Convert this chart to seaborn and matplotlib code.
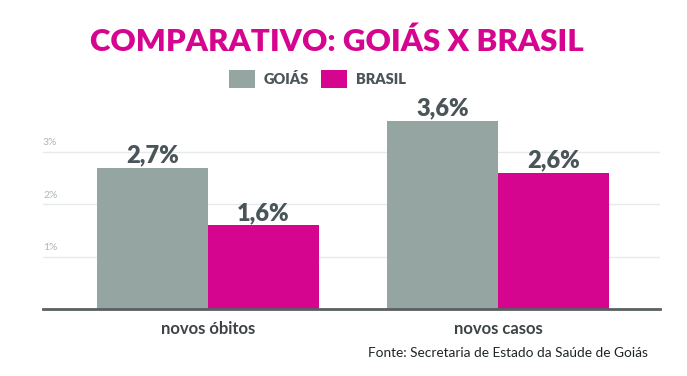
import matplotlib
matplotlib.use("Agg")
import matplotlib.pyplot as plt
import seaborn as sns
import pandas as pd
from matplotlib.patches import Patch

categories = ["novos óbitos", "novos casos"]
series = ["GOIÁS", "BRASIL"]
goias = [2.7, 3.6]
brasil = [1.6, 2.6]
yticks = [1, 2, 3]
ytick_labels = ["1%", "2%", "3%"]

GREY = "#95a5a2"
MAGENTA = "#d6058f"
DARK = "#4a5559"

sns.set_theme(style="white")
plt.rcParams["font.family"] = ["Lato", "DejaVu Sans"]

df = pd.DataFrame({
    "cat": categories * 2,
    "serie": [series[0]] * 2 + [series[1]] * 2,
    "val": goias + brasil,
})

fig = plt.figure(figsize=(6.87, 3.76), dpi=100)
ax = fig.add_axes([43 / 687, 1 - 309 / 376, (660 - 43) / 687, (309 - 99.8) / 376])

sns.barplot(data=df, x="cat", y="val", hue="serie", order=categories,
            hue_order=series, palette=[GREY, MAGENTA], width=0.766,
            saturation=1, ax=ax, legend=False, errorbar=None, linewidth=0)

ax.set_xlim(-0.569, 1.559)
ax.set_ylim(0, 4.0)
ax.set_yticks(yticks)
ax.set_yticklabels([])
ax.tick_params(axis="y", length=0)
ax.yaxis.grid(True, color="#e6eaea", linewidth=1)
ax.set_axisbelow(True)
for t, lab in zip(yticks, ytick_labels):
    ax.annotate(lab, xy=(0, t), xycoords=("axes fraction", "data"),
                xytext=(0, 3.5), textcoords="offset points",
                ha="left", va="bottom", fontsize=7.5, color="#aeb6b6")

for s in ["top", "right", "left"]:
    ax.spines[s].set_visible(False)
ax.spines["bottom"].set_color("#5a5f60")
ax.spines["bottom"].set_linewidth(2)

ax.set_xlabel("")
ax.set_ylabel("")
ax.tick_params(axis="x", length=0, pad=9)
for lbl in ax.get_xticklabels():
    lbl.set_fontsize(12)
    lbl.set_fontweight("bold")
    lbl.set_color("#3d4446")

for cont in ax.containers:
    labs = [f"{b.get_height():.1f}".replace(".", ",") + "%" for b in cont]
    ax.bar_label(cont, labels=labs, padding=1, fontsize=17, fontweight="heavy",
                 color=DARK)

fig.text(337 / 687, 1 - 42 / 376, "COMPARATIVO: GOIÁS X BRASIL", ha="center",
         va="center", fontsize=22.5, fontweight="heavy", color=MAGENTA)

handles = [Patch(facecolor=GREY, edgecolor="none"),
           Patch(facecolor=MAGENTA, edgecolor="none")]
leg = fig.legend(handles, series, loc="center", bbox_to_anchor=(317 / 687, 1 - 79 / 376),
                 ncol=2, frameon=False, fontsize=10.5, handlelength=1.8,
                 handleheight=1.45, handletextpad=0.6, columnspacing=0.8)
for t in leg.get_texts():
    t.set_fontweight("heavy")
    t.set_color(DARK)

fig.text(648 / 687, 1 - 353 / 376, "Fonte: Secretaria de Estado da Saúde de Goiás",
         ha="right", va="center", fontsize=9.8, color="#1e2526")

fig.savefig("out.png", dpi=100, facecolor="white")
